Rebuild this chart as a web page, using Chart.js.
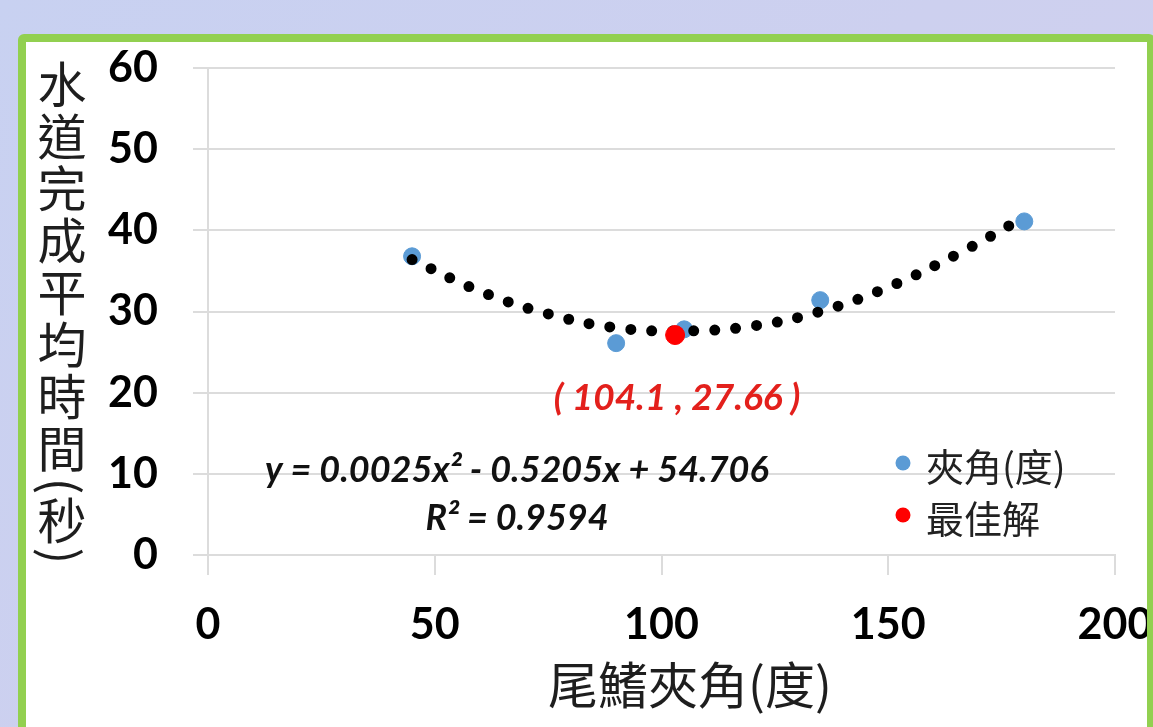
<!DOCTYPE html>
<html>
<head>
<meta charset="utf-8">
<script src="https://cdn.jsdelivr.net/npm/chart.js@4.4.1/dist/chart.umd.min.js"></script>
<style>
  html,body{margin:0;padding:0;}
  body{width:1153px;height:727px;overflow:hidden;position:relative;
    background:linear-gradient(135deg,#c8d1f1 0%,#cdd0ef 50%,#d2d0ee 100%);}
  .panel{position:absolute;left:18px;top:34px;width:1121px;height:720px;
    border:8px solid #92d050;border-radius:6px;background:#fff;}
  #chart{position:absolute;left:0;top:0;}
</style>
</head>
<body>
<div class="panel"><canvas id="chart" width="1121" height="685"></canvas></div>
<script>
/* ---------- data ---------- */
const angleX = [45, 90, 105, 135, 180];          // 夾角(度)
const timeY  = [36.8, 26.1, 27.8, 31.4, 41.1];
const bestX  = [103];                             // 最佳解
const bestY  = [27.1];
const trendX = [45, 60, 75, 90, 105, 120, 135, 150, 165, 180];
const trendY = [36.4, 32.5, 29.7, 28.0, 27.6, 28.2, 30.0, 33.0, 37.0, 41.6];
const xTicks = [0, 50, 100, 150, 200];
const yTicks = [0, 10, 20, 30, 40, 50, 60];

const yTitle = '水道完成平均時間(秒)';
const xTitle = '尾鰭夾角(度)';
const bestLabel = '( 104.1 , 27.66 )';
const eqLine = 'y = 0.0025x² - 0.5205x + 54.706';
const r2Line = 'R² = 0.9594';

const pts = (xs, ys) => xs.map((x,i)=>({x:x, y:ys[i]}));
const TICK_FONT = {family:'Lato', size:43, weight:'bold'};
const CJK = '"Noto Sans CJK TC","Noto Sans CJK SC",sans-serif';

/* ---------- text overlays ---------- */
const overlay = {
  id:'overlay',
  afterDraw(chart){
    const ctx = chart.ctx, xs = chart.scales.x;
    ctx.save();

    // vertical y-axis title, upright characters, parens turned sideways
    ctx.fillStyle = '#1e1e1e';
    ctx.font = '49px ' + CJK;
    ctx.textAlign = 'center';
    ctx.textBaseline = 'middle';
    let y = 42, prevHalf = 0;
    for(const ch of yTitle){
      const paren = (ch==='(' || ch===')');
      const half = paren ? 10 : 26;
      if(prevHalf) y += prevHalf + half;
      prevHalf = half;
      if(paren){
        const nudge = ch==='(' ? 2 : 0;
        ctx.save(); ctx.translate(36, y + nudge); ctx.rotate(Math.PI/2);
        ctx.fillText(ch, 0, 0); ctx.restore();
      } else ctx.fillText(ch, 36, y);
    }

    // x-axis title
    ctx.font = '50px ' + CJK;
    ctx.fillText(xTitle, 664, 643);

    // best-solution label
    ctx.fillStyle = '#e3201c';
    ctx.font = 'italic bold 37px Lato';
    ctx.fillText(bestLabel, xs.getPixelForValue(bestX[0]) + 2, 356);

    // trendline equation
    ctx.fillStyle = '#111';
    ctx.font = 'italic bold 36px Lato';
    ctx.textAlign = 'left';
    ctx.fillText(eqLine, 239, 428);
    ctx.textAlign = 'center';
    ctx.fillText(r2Line, 491, 476);

    // legend (scatter datasets only)
    const items = chart.data.datasets.filter(d=>d.inLegend);
    items.sort((a,b)=>a.legendIndex-b.legendIndex);
    ctx.textAlign = 'left';
    ctx.font = '38px ' + CJK;
    items.forEach((d,i)=>{
      const cy = 421 + i*52;
      ctx.beginPath();
      ctx.arc(877, cy, 7.5, 0, Math.PI*2);
      ctx.fillStyle = d.backgroundColor;
      ctx.fill();
      ctx.fillStyle = '#222';
      ctx.fillText(d.label, 900, cy + 4);
    });
    ctx.restore();
  }
};

/* ---------- chart ---------- */
new Chart(document.getElementById('chart'), {
  type:'scatter',
  data:{
    datasets:[
      {label:'最佳解', data:pts(bestX, bestY), backgroundColor:'#ff0000', borderColor:'#ff0000',
        pointRadius:9.5, inLegend:true, legendIndex:1},
      {label:'趨勢線', data:pts(trendX, trendY), showLine:true, pointRadius:0,
        borderColor:'#000', borderWidth:11, borderDash:[0,21], borderCapStyle:'round', tension:0.4},
      {label:'夾角(度)', data:pts(angleX, timeY), backgroundColor:'#5b9bd5', borderColor:'#5b9bd5',
        pointRadius:8.5, inLegend:true, legendIndex:0}
    ]
  },
  options:{
    responsive:false, animation:false,
    layout:{padding:{top:26, right:32, left:0, bottom:0}},
    plugins:{legend:{display:false}, tooltip:{enabled:false}},
    scales:{
      x:{
        type:'linear', min:0, max:200,
        afterBuildTicks:s=>{ s.ticks = xTicks.map(v=>({value:v})); },
        afterFit:s=>{ s.height = 172; s.paddingLeft = 0; s.paddingRight = 0; },
        grid:{drawOnChartArea:false, drawTicks:true, tickLength:20, color:'#dcdcdc', lineWidth:2},
        border:{display:true, color:'#dcdcdc', width:2},
        ticks:{font:TICK_FONT, color:'#000', padding:24, maxRotation:0}
      },
      y:{
        min:0, max:60,
        afterBuildTicks:s=>{ s.ticks = yTicks.map(v=>({value:v})); },
        afterFit:s=>{ s.width = 182; s.paddingTop = 0; s.paddingBottom = 0; },
        grid:{color:'#dcdcdc', lineWidth:2, tickLength:15},
        border:{display:true, color:'#dcdcdc', width:2},
        ticks:{font:TICK_FONT, color:'#000', padding:35}
      }
    }
  },
  plugins:[overlay]
});
</script>
</body>
</html>
